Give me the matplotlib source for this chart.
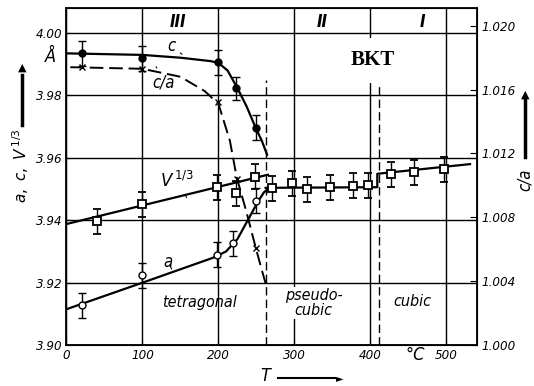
import matplotlib
matplotlib.use("Agg")
from matplotlib import pyplot as plt

# measured points (T in degC)
c_T = [20, 100, 199, 223, 249]
c_val = [3.9936, 3.9920, 3.9906, 3.9823, 3.9696]
c_err = [0.004, 0.004, 0.004, 0.0037, 0.004]

ca_T = [20, 100, 200, 224, 249]
ca_val = [1.0174, 1.0173, 1.0152, 1.0104, 1.0061]

a_T = [20, 100, 198, 219, 250]
a_val = [3.9128, 3.9224, 3.9290, 3.9327, 3.9462]
a_err = [0.004, 0.004, 0.004, 0.004, 0.004]

V_T = [40, 100, 198, 223, 248, 271, 297, 317, 347, 377, 397, 427, 457, 497]
V_val = [3.9397, 3.9452, 3.9506, 3.9486, 3.9540, 3.9503, 3.9519, 3.9500,
         3.9506, 3.9510, 3.9513, 3.9548, 3.9554, 3.9564]
V_err = [0.004] * len(V_T)

# drawn curves
c_line_T = [0, 100, 150, 190, 200, 212, 225, 237, 249, 257, 264]
c_line_v = [3.9935, 3.9930, 3.9921, 3.9910, 3.9904, 3.9880, 3.9823, 3.9765, 3.9696, 3.9655, 3.9610]

ca_line_T = [5, 100, 150, 182, 200, 215, 224, 237, 249, 257, 263]
ca_line_v = [1.0174, 1.0173, 1.0168, 1.0159, 1.0151, 1.0128, 1.0105, 1.0083, 1.0061, 1.0047, 1.0037]

a_line_T = [0, 100, 193, 210, 225, 241, 252, 260, 265]
a_line_v = [3.9115, 3.9200, 3.9280, 3.9300, 3.9340, 3.9411, 3.9460, 3.9490, 3.9500]

V1_line_T = [0, 265]
V1_line_v = [3.9388, 3.9546]
V2_line_T = [262, 409, 409, 531]
V2_line_v = [3.9504, 3.9506, 3.9549, 3.9580]

x_ticks = [0, 100, 200, 300, 400, 500]
y_ticks = [3.90, 3.92, 3.94, 3.96, 3.98, 4.00]
r_ticks = [1.000, 1.004, 1.008, 1.012, 1.016, 1.020]
phase_T = [262, 411]

lab = dict(family="DejaVu Sans", style="italic", fontstretch="condensed")

fig = plt.figure(figsize=(5.34, 3.86), dpi=100)
ax = fig.add_axes([0.1245, 0.106, 0.7685, 0.873])
ax.set_xlim(0, 540)
ax.set_ylim(3.90, 4.008)
ax.set_xticks(x_ticks)
ax.set_yticks(y_ticks)
ax.set_xticklabels([str(t) for t in x_ticks], **lab, fontsize=9.5)
ax.set_yticklabels([f"{v:.2f}" for v in y_ticks], **lab, fontsize=9.5)
ax.grid(True, color="black", lw=1.0)
ax.tick_params(direction="in", length=4, color="black", pad=3)
for s in ax.spines.values():
    s.set_linewidth(1.3)

for t in phase_T:
    ax.plot([t, t], [3.90, 3.985], color="black", lw=1.0, ls=(0, (6, 3)))

# curves
ax.plot(c_line_T, c_line_v, color="black", lw=1.6)
ax.plot(a_line_T, a_line_v, color="black", lw=1.6)
ax.plot(V1_line_T, V1_line_v, color="black", lw=1.6)
ax.plot(V2_line_T, V2_line_v, color="black", lw=1.6)

ax.errorbar(c_T, c_val, yerr=c_err, fmt="o", color="black", ms=5,
            capsize=3, elinewidth=1, zorder=5)
ax.errorbar(a_T, a_val, yerr=a_err, fmt="o", mfc="white", mec="black",
            color="black", ms=5, capsize=3, elinewidth=1, zorder=5)
ax.errorbar(V_T, V_val, yerr=V_err, fmt="s", mfc="white", mec="black",
            mew=1.3, color="black", ms=6, capsize=3, elinewidth=1, zorder=5)

ax2 = ax.twinx()
ax2.set_ylim(1.000, 1.0211)
ax2.set_yticks(r_ticks)
ax2.set_yticklabels([f"{v:.3f}" for v in r_ticks], **lab, fontsize=9.5)
ax2.tick_params(direction="in", length=5, pad=3)
ax2.plot(ca_line_T, ca_line_v, color="black", lw=1.4, ls=(0, (7, 3)))
ax2.plot(ca_T, ca_val, "x", color="black", ms=5, mew=1)

# region and curve labels
ax.text(147, 4.0037, "III", ha="center", va="center", fontsize=12, weight="bold", **lab)
ax.text(337, 4.0037, "II", ha="center", va="center", fontsize=12, weight="bold", **lab)
ax.text(469, 4.0037, "I", ha="center", va="center", fontsize=12, weight="bold", **lab)
ax.text(175, 3.9137, "tetragonal", ha="center", va="center", fontsize=11.5, **lab)
ax.text(325, 3.9135, "pseudo-\ncubic", ha="center", va="center", fontsize=11.5,
        linespacing=1.0, bbox=dict(facecolor="white", edgecolor="none", pad=1), **lab)
ax.text(455, 3.9140, "cubic", ha="center", va="center", fontsize=11.5, **lab)
ax.text(403, 3.9913, "BKT", ha="center", va="center", fontsize=15, weight="bold",
        family="Liberation Serif",
        bbox=dict(boxstyle="square,pad=0.6", facecolor="white", edgecolor="none"))

ax.annotate("c", xy=(152, 3.9932), xytext=(138, 3.9960), fontsize=12, ha="center",
            va="center", arrowprops=dict(arrowstyle="-", lw=0.8), **lab)
ax.annotate("c/a", xy=(118, 3.9892), xytext=(128, 3.9842), fontsize=12, ha="center",
            va="center", arrowprops=dict(arrowstyle="-", lw=0.8), **lab)
ax.annotate("$V^{\\,1/3}$", xy=(158, 3.9473), xytext=(145, 3.9525), fontsize=12,
            ha="center", va="center", arrowprops=dict(arrowstyle="-", lw=0.8), **lab)
ax.annotate("a", xy=(140, 3.9236), xytext=(134, 3.9265), fontsize=12, ha="center",
            va="center", arrowprops=dict(arrowstyle="-", lw=0.8), **lab)

# axis captions
fig.text(50 / 534, 1 - 57 / 386, "Å", ha="center", va="center", fontsize=13, **lab)
fig.text(21 / 534, 1 - 166 / 386, "$a,\\ c,\\ V^{\\,1/3}$", rotation=90, ha="center",
         va="center", fontsize=11, **lab)
fig.add_artist(plt.Line2D([0.041, 0.041], [1 - 125 / 386, 1 - 75 / 386], color="black", lw=2.5))
fig.text(0.041, 1 - 68 / 386, "▲", ha="center", va="center", fontsize=8)
fig.text(525 / 534, 1 - 180 / 386, "c/a", rotation=90, ha="center", va="center",
         fontsize=12, **lab)
fig.add_artist(plt.Line2D([0.983, 0.983], [1 - 157 / 386, 1 - 100 / 386], color="black", lw=2.5))
fig.text(0.983, 1 - 95 / 386, "▲", ha="center", va="center", fontsize=8)
fig.text(415 / 534, 1 - 355 / 386, "°C", ha="center", va="center", fontsize=13, **lab)
fig.text(265 / 534, 1 - 376 / 386, "T", ha="center", va="center", fontsize=13, **lab)
fig.add_artist(plt.Line2D([278 / 534, 335 / 534], [1 - 378 / 386] * 2, color="black", lw=1.5))
fig.text(340 / 534, 1 - 378 / 386, "►", ha="center", va="center", fontsize=7)

fig.savefig("out.png", dpi=100)
